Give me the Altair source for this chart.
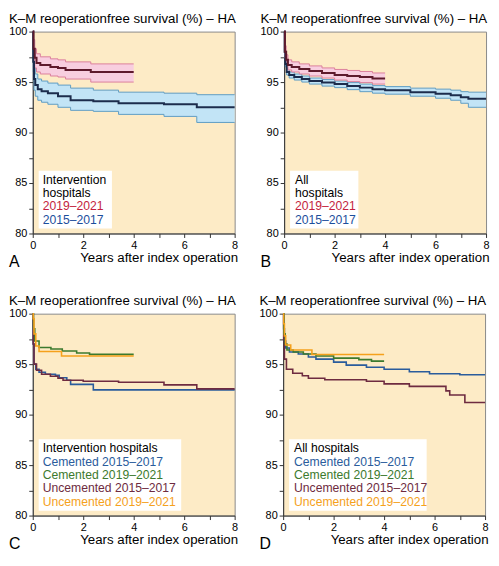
import altair as alt
import pandas as pd

# ---------------- data ----------------
TITLE = "K–M reoperationfree survival (%) – HA"
XTITLE = "Years after index operation"

# Panel A – intervention hospitals
A_new_t = [0, 0.03, 0.08, 0.15, 0.3, 0.7, 1.0, 1.3, 2.3, 4.0]
A_new_s = [100, 98.3, 97.4, 96.9, 96.7, 96.5, 96.4, 96.2, 96.0, 96.0]
A_new_hi = [100, 99.2, 98.3, 97.8, 97.5, 97.3, 97.2, 97.0, 96.8, 96.8]
A_new_lo = [100, 97.4, 96.4, 96.0, 95.8, 95.6, 95.5, 95.3, 95.0, 95.0]
A_old_t = [0, 0.02, 0.05, 0.1, 0.2, 0.35, 0.6, 1.0, 1.5, 2.4, 3.4, 5.2, 6.5, 8.0]
A_old_s = [100, 97.0, 95.3, 94.7, 94.3, 94.1, 93.9, 93.6, 93.2, 93.1, 92.9, 92.8, 92.5, 92.5]
A_old_hi = [100, 98.0, 96.4, 95.8, 95.3, 95.1, 94.9, 94.7, 94.4, 94.2, 94.0, 93.9, 93.75, 93.75]
A_old_lo = [100, 96.0, 94.2, 93.6, 93.2, 93.0, 92.8, 92.5, 92.2, 92.1, 91.8, 91.6, 91.0, 91.0]

# Panel B – all hospitals
B_new_t = [0, 0.03, 0.08, 0.15, 0.3, 0.6, 1.0, 1.5, 2.0, 2.5, 3.0, 3.5, 4.0]
B_new_s = [100, 98.0, 97.2, 96.7, 96.5, 96.3, 96.1, 95.9, 95.7, 95.6, 95.5, 95.35, 95.35]
B_new_hi = [100, 98.6, 97.7, 97.2, 97.0, 96.8, 96.6, 96.4, 96.25, 96.15, 96.05, 95.9, 95.9]
B_new_lo = [100, 97.4, 96.7, 96.2, 96.0, 95.8, 95.6, 95.4, 95.2, 95.05, 94.95, 94.8, 94.8]
B_old_t = [0, 0.02, 0.05, 0.1, 0.2, 0.4, 0.7, 1.0, 1.5, 2.0, 2.5, 3.0, 3.5, 4.0, 5.0, 6.0, 6.6, 7.0, 7.3, 8.0]
B_old_s = [100, 98.0, 96.8, 96.0, 95.7, 95.5, 95.3, 95.1, 94.95, 94.8, 94.6, 94.45, 94.3, 94.2, 94.0, 93.85, 93.7, 93.5, 93.35, 93.35]
B_old_hi = [100, 98.4, 97.1, 96.3, 96.0, 95.8, 95.6, 95.4, 95.25, 95.1, 94.95, 94.8, 94.65, 94.55, 94.4, 94.3, 94.2, 94.05, 94.0, 94.0]
B_old_lo = [100, 97.6, 96.5, 95.7, 95.4, 95.2, 95.0, 94.8, 94.6, 94.45, 94.25, 94.05, 93.9, 93.8, 93.6, 93.4, 93.2, 92.9, 92.5, 92.5]

# Panel C – intervention hospitals by fixation
C_cem_old_t = [0, 0.02, 0.05, 0.12, 0.25, 0.5, 0.9, 1.05, 1.35, 1.5, 2.4, 8.0]
C_cem_old_s = [100, 97.0, 95.0, 94.5, 94.2, 94.0, 93.9, 93.65, 93.4, 93.0, 92.45, 92.45]
C_cem_new_t = [0, 0.03, 0.08, 0.25, 0.72, 1.17, 1.74, 2.25, 4.0]
C_cem_new_s = [100, 98.5, 97.3, 96.65, 96.5, 96.3, 96.1, 95.97, 95.97]
C_unc_old_t = [0, 0.02, 0.05, 0.15, 0.35, 0.7, 1.0, 1.2, 2.0, 3.4, 5.2, 6.5, 8.0]
C_unc_old_s = [100, 97.0, 95.0, 94.4, 94.0, 93.8, 93.6, 93.4, 93.3, 93.2, 92.95, 92.55, 92.55]
C_unc_new_t = [0, 0.02, 0.05, 0.12, 0.25, 1.14, 4.0]
C_unc_new_s = [100, 99.5, 98.0, 96.8, 96.25, 95.8, 95.8]

# Panel D – all hospitals by fixation
D_cem_old_t = [0, 0.02, 0.05, 0.1, 0.25, 0.6, 1.0, 1.3, 2.0, 2.5, 3.3, 4.0, 5.0, 5.8, 7.0, 8.0]
D_cem_old_s = [100, 98.5, 97.3, 96.6, 96.2, 96.0, 95.7, 95.5, 95.2, 94.9, 94.7, 94.5, 94.25, 94.05, 93.95, 93.95]
D_cem_new_t = [0, 0.03, 0.08, 0.15, 0.4, 0.8, 1.3, 2.0, 3.0, 3.5, 4.0]
D_cem_new_s = [100, 98.0, 97.0, 96.4, 96.2, 96.0, 95.8, 95.6, 95.45, 95.3, 95.3]
D_unc_old_t = [0, 0.02, 0.05, 0.13, 0.38, 0.76, 1.0, 1.65, 3.3, 4.0, 5.0, 6.45, 6.6, 7.2, 8.0]
D_unc_old_s = [100, 97.5, 95.5, 94.5, 94.1, 93.85, 93.6, 93.45, 93.3, 93.05, 92.8, 92.35, 91.95, 91.2, 91.2]
D_unc_new_t = [0, 0.02, 0.05, 0.1, 0.3, 1.14, 4.0]
D_unc_new_s = [100, 99.0, 97.8, 96.9, 96.4, 95.95, 95.95]

A_legend = ["Intervention", "hospitals", "2019–2021", "2015–2017"]
B_legend = ["All", "hospitals", "2019–2021", "2015–2017"]
C_legend = ["Intervention hospitals", "Cemented 2015–2017", "Cemented 2019–2021",
            "Uncemented 2015–2017", "Uncemented 2019–2021"]
D_legend = ["All hospitals", "Cemented 2015–2017", "Cemented 2019–2021",
            "Uncemented 2015–2017", "Uncemented 2019–2021"]

# ---------------- styles ----------------
FONT = "Liberation Sans"
BG = "#FDEBC6"
W, H = 204, 204

RED_LINE, RED_FILL, RED_EDGE, RED_TXT = "#5E1A2C", "#F8CEDF", "#DC7F9C", "#C41E3E"
BLU_LINE, BLU_FILL, BLU_EDGE, BLU_TXT = "#1C2C4C", "#C2E4F6", "#5F9DC3", "#1C4E9C"
C_BLUE, C_GREEN, C_MAROON, C_ORANGE = "#2A5C9C", "#3C7A2E", "#6E2B40", "#F5A11C"

X = alt.X("t:Q", scale=alt.Scale(domain=[0, 8], nice=False, zero=False),
          axis=alt.Axis(values=list(range(9)), labelFlush=False,
                        labelExpr="datum.value % 2 == 0 ? datum.label : ''",
                        title=XTITLE, titleX=W + 3, titleY=28, titleAlign="right",
                        titleBaseline="alphabetic", grid=False))
YSC = alt.Scale(domain=[80, 100], nice=False, zero=False)
YAX = alt.Axis(values=[80 + 2.5 * i for i in range(9)],
               labelExpr="datum.value % 5 == 0 ? datum.label : ''",
               title=None, grid=False)


def Yf(field):
    return alt.Y(f"{field}:Q", scale=YSC, axis=YAX)


def curve(t, s, color, width):
    df = pd.DataFrame({"t": t, "s": s})
    return alt.Chart(df).mark_line(interpolate="step-after", color=color,
                                   strokeWidth=width).encode(x=X, y=Yf("s"))


def band(t, lo, hi, fill, edge):
    df = pd.DataFrame({"t": t, "lo": lo, "hi": hi})
    base = alt.Chart(df)
    area = base.mark_area(interpolate="step-after", color=fill, opacity=1).encode(
        x=X, y=Yf("lo"), y2="hi:Q")
    e1 = base.mark_line(interpolate="step-after", color=edge, strokeWidth=1).encode(
        x=X, y=Yf("lo"))
    e2 = base.mark_line(interpolate="step-after", color=edge, strokeWidth=1).encode(
        x=X, y=Yf("hi"))
    return [area, e1, e2]


def legend(lines, colors, box_right, text_left):
    n = len(lines)
    step = 13.5
    last = H - 14
    first = last - (n - 1) * step
    box = alt.Chart(pd.DataFrame({"k": [0]})).mark_rect(fill="white").encode(
        x=alt.value(6), x2=alt.value(box_right),
        y=alt.value(first - 9), y2=alt.value(last + 9))
    layers = [box]
    for i, (txt, col) in enumerate(zip(lines, colors)):
        layers.append(
            alt.Chart(pd.DataFrame({"label": [txt]})).mark_text(
                align="left", baseline="middle", font=FONT, fontSize=12.3, color=col
            ).encode(x=alt.value(text_left), y=alt.value(first + i * step),
                     text="label:N"))
    return layers


def label_text(txt, y, size):
    return alt.Chart(pd.DataFrame({"l": [txt]})).mark_text(
        align="left", baseline="alphabetic", font=FONT, fontSize=size, color="black"
    ).encode(x=alt.value(-24), y=alt.value(y), text="l:N")


def panel(layers, ch):
    return alt.layer(
        *layers, label_text(TITLE, -9, 13.4), label_text(ch, H + 34, 16)
    ).properties(width=W, height=H)


pA = panel(
    band(A_old_t, A_old_lo, A_old_hi, BLU_FILL, BLU_EDGE)
    + band(A_new_t, A_new_lo, A_new_hi, RED_FILL, RED_EDGE)
    + [curve(A_old_t, A_old_s, BLU_LINE, 2), curve(A_new_t, A_new_s, RED_LINE, 2)]
    + legend(A_legend, ["black", "black", RED_TXT, BLU_TXT], 80, 10), "A")
pB = panel(
    band(B_old_t, B_old_lo, B_old_hi, BLU_FILL, BLU_EDGE)
    + band(B_new_t, B_new_lo, B_new_hi, RED_FILL, RED_EDGE)
    + [curve(B_old_t, B_old_s, BLU_LINE, 2), curve(B_new_t, B_new_s, RED_LINE, 2)]
    + legend(B_legend, ["black", "black", RED_TXT, BLU_TXT], 75, 11), "B")
pC = panel(
    [curve(C_cem_old_t, C_cem_old_s, C_BLUE, 1.6),
     curve(C_unc_old_t, C_unc_old_s, C_MAROON, 1.6),
     curve(C_cem_new_t, C_cem_new_s, C_GREEN, 1.6),
     curve(C_unc_new_t, C_unc_new_s, C_ORANGE, 1.6)]
    + legend(C_legend, ["black", C_BLUE, C_GREEN, C_MAROON, C_ORANGE], 150, 10), "C")
pD = panel(
    [curve(D_cem_old_t, D_cem_old_s, C_BLUE, 1.6),
     curve(D_unc_old_t, D_unc_old_s, C_MAROON, 1.6),
     curve(D_cem_new_t, D_cem_new_s, C_GREEN, 1.6),
     curve(D_unc_new_t, D_unc_new_s, C_ORANGE, 1.6)]
    + legend(D_legend, ["black", C_BLUE, C_GREEN, C_MAROON, C_ORANGE], 145, 11), "D")

chart = alt.vconcat(
    alt.hconcat(pA, pB, spacing=20),
    alt.hconcat(pC, pD, spacing=20),
    spacing=22,
).properties(padding={"left": 0, "top": 0, "right": 0, "bottom": 0}
).configure_view(fill=BG, stroke="#8A8A8A", strokeWidth=1
).configure_axis(
    domainColor="#333333", tickColor="#333333", tickSize=4, tickWidth=1,
    labelFont=FONT, labelFontSize=11, labelColor="black", labelPadding=2,
    titleFont=FONT, titleFontSize=13.4, titleFontWeight="normal", titleColor="black",
).configure_text(font=FONT)

chart.save("out.html", embed_options={"renderer": "svg", "actions": False})
